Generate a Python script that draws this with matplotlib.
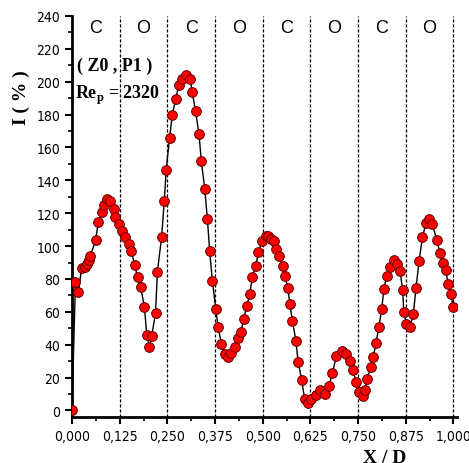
import matplotlib
matplotlib.use("Agg")
import matplotlib.pyplot as plt
from matplotlib.ticker import MultipleLocator, FuncFormatter

# measured points: X/D and I(%)
xd = [0.000, 0.009, 0.017, 0.025, 0.033, 0.040, 0.045, 0.048, 0.062, 0.069,
      0.078, 0.085, 0.093, 0.100, 0.109, 0.114, 0.124, 0.132, 0.140, 0.150,
      0.156, 0.164, 0.172, 0.180, 0.190, 0.196, 0.203, 0.209, 0.219, 0.224,
      0.235, 0.242, 0.247, 0.256, 0.263, 0.272, 0.280, 0.289, 0.300, 0.310,
      0.315, 0.324, 0.333, 0.339, 0.348, 0.355, 0.361, 0.368, 0.377, 0.383,
      0.392, 0.400, 0.409, 0.418, 0.427, 0.436, 0.443, 0.450, 0.459, 0.466,
      0.473, 0.482, 0.489, 0.499, 0.510, 0.514, 0.523, 0.530, 0.536, 0.543,
      0.552, 0.558, 0.566, 0.571, 0.578, 0.587, 0.593, 0.602, 0.610, 0.619,
      0.628, 0.639, 0.650, 0.663, 0.674, 0.683, 0.693, 0.707, 0.718, 0.729,
      0.737, 0.744, 0.753, 0.762, 0.768, 0.774, 0.783, 0.790, 0.797, 0.805,
      0.812, 0.818, 0.825, 0.833, 0.844, 0.853, 0.860, 0.867, 0.870, 0.877,
      0.886, 0.895, 0.902, 0.910, 0.919, 0.928, 0.936, 0.945, 0.956, 0.965,
      0.973, 0.980, 0.986, 0.993, 1.000]
intensity = [0.0, 78.0, 72.0, 86.5, 87.0, 89.0, 91.5, 94.0, 103.5, 114.6,
             120.5, 125.0, 128.5, 127.6, 122.6, 118.0, 113.4, 109.0, 105.5, 101.0,
             97.0, 88.5, 81.0, 75.0, 63.0, 46.0, 38.6, 45.5, 59.0, 84.5,
             105.5, 127.5, 146.5, 166.0, 180.0, 189.5, 198.0, 201.6, 204.0, 201.6,
             194.0, 182.0, 168.0, 152.0, 135.0, 116.5, 97.0, 79.0, 61.7, 50.7,
             40.4, 34.4, 32.5, 35.0, 38.5, 44.0, 47.7, 55.7, 63.8, 70.9,
             81.0, 88.0, 96.6, 103.3, 106.3, 106.0, 104.3, 103.0, 98.0, 94.0,
             88.0, 82.0, 74.5, 64.8, 54.6, 42.5, 29.7, 18.7, 7.0, 4.6,
             7.0, 9.4, 12.7, 10.0, 15.0, 22.8, 33.0, 36.4, 34.4, 30.3,
             24.8, 17.5, 11.4, 9.0, 12.7, 19.0, 26.3, 32.4, 41.0, 51.0,
             61.7, 74.0, 82.0, 87.0, 91.7, 89.0, 85.0, 73.5, 59.7, 52.6,
             50.6, 58.7, 74.3, 91.0, 105.3, 114.0, 116.5, 113.4, 104.0, 96.0,
             90.0, 85.6, 77.0, 71.0, 62.8]

zone_edges = [0.0, 0.125, 0.25, 0.375, 0.5, 0.625, 0.75, 0.875, 1.0]
zone_labels = ["C", "O", "C", "O", "C", "O", "C", "O"]

fig = plt.figure(figsize=(4.69, 4.64), dpi=100)
ax = fig.add_axes([0.1535, 0.099, 0.8205, 0.8645])

for xe in zone_edges:
    ax.axvline(xe, color="black", linestyle=(0, (2.5, 1.5)), linewidth=0.9, zorder=1)
for i, lab in enumerate(zone_labels):
    xm = (zone_edges[i] + zone_edges[i + 1]) / 2
    ax.text(xm, 233, lab, ha="center", va="center", fontsize=13,
            family="Liberation Sans")

ax.plot(xd, intensity, color="black", linewidth=1.0, marker="o",
        markersize=7, markerfacecolor="#ff0000", markeredgecolor="#600000",
        markeredgewidth=0.7, zorder=3)

ax.set_xlim(0, 1.009)
ax.set_ylim(-4, 240)
ax.xaxis.set_major_locator(MultipleLocator(0.125))
ax.xaxis.set_minor_locator(MultipleLocator(0.0625))
ax.yaxis.set_major_locator(MultipleLocator(20))
ax.yaxis.set_minor_locator(MultipleLocator(10))
ax.xaxis.set_major_formatter(FuncFormatter(lambda v, p: f"{v:.3f}".replace(".", ",")))

for s in ["top", "right"]:
    ax.spines[s].set_visible(False)
for s in ["left", "bottom"]:
    ax.spines[s].set_linewidth(2)
ax.tick_params(which="major", direction="out", length=5, width=1.5,
               labelsize=10)
ax.tick_params(which="minor", direction="out", length=3, width=1.2)
for lbl in ax.get_xticklabels() + ax.get_yticklabels():
    lbl.set_family("Liberation Sans Narrow")
    lbl.set_stretch("condensed")

ax.text(0.012, 207, "( Z0 , P1 )", fontsize=13, family="Liberation Serif",
        fontweight="bold")
ax.text(0.008, 190, "Re$_\\mathregular{p}$ = 2320", fontsize=13,
        family="Liberation Serif", fontweight="bold")

fig.text(0.045, 0.79, "I ( % )", rotation=90, ha="center", va="center",
         fontsize=14, family="Liberation Serif", fontweight="bold")
fig.text(0.82, 0.012, "X / D", ha="center", va="center", fontsize=14,
         family="Liberation Serif", fontweight="bold")

fig.savefig("out.png", dpi=100)
